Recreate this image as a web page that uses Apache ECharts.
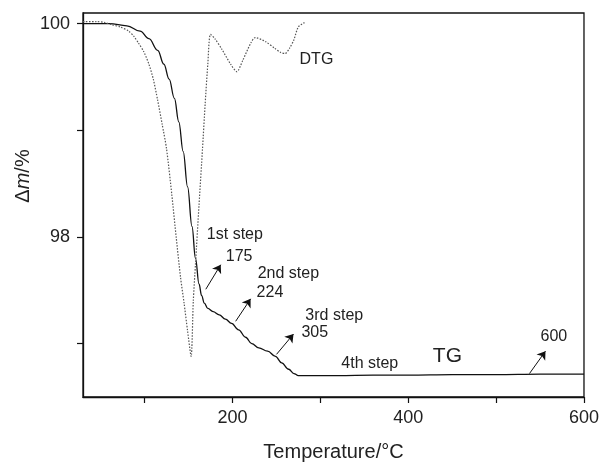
<!DOCTYPE html>
<html><head><meta charset="utf-8">
<script src="https://cdn.jsdelivr.net/npm/echarts@6/dist/echarts.min.js"></script>
<style>html,body{margin:0;padding:0;background:#fff}#c{width:602px;height:467px}</style>
</head><body><div id="c"></div>
<script>
// TG curve (temperature °C, mass %)
const tgX = [30, 60, 80, 95, 105, 115, 122, 128, 134, 139, 144, 149, 154, 158, 162, 165, 168, 172, 178, 185, 192, 199, 207, 215, 222, 230, 240, 249, 256, 264, 270, 275, 284, 320, 360, 400, 450, 500, 550, 600];
const tgY = [100.0, 100.0, 99.98, 99.93, 99.86, 99.75, 99.62, 99.48, 99.30, 99.08, 98.80, 98.47, 98.10, 97.80, 97.56, 97.45, 97.38, 97.33, 97.30, 97.27, 97.23, 97.19, 97.13, 97.06, 97.00, 96.96, 96.93, 96.88, 96.82, 96.76, 96.72, 96.70, 96.70, 96.70, 96.705, 96.705, 96.71, 96.71, 96.715, 96.715];
// DTG curve (scaled onto the same axis)
const dtgX = [30, 45, 55, 63, 72, 82, 88, 93, 99, 105, 110, 115, 120, 125, 131, 136, 141, 145, 149, 153, 155.5, 158, 162, 166, 169, 172, 175, 180, 188, 198, 205, 212, 221, 226, 238, 248, 255, 260, 265, 270, 275, 282];
const dtgY = [100.02, 100.02, 100.01, 99.99, 99.97, 99.93, 99.88, 99.82, 99.74, 99.62, 99.48, 99.28, 99.06, 98.83, 98.40, 98.00, 97.62, 97.38, 97.12, 96.88, 97.40, 97.75, 98.30, 98.83, 99.25, 99.62, 99.90, 99.86, 99.76, 99.62, 99.55, 99.66, 99.82, 99.87, 99.83, 99.77, 99.73, 99.72, 99.77, 99.85, 99.97, 100.01];
// axis ticks / labels
const xTicks = [100, 200, 300, 400, 500, 600];
const xLabels = [200, 400, 600];
const yTicks = [97, 98, 99, 100];
const yLabels = [98, 100];
// annotation texts
const notes = ['1st step', '175', '2nd step', '224', '3rd step', '305', '4th step', 'TG', '600', 'DTG'];
</script>
<script>
const noteAt = [[170.9, 98.02], [192.4, 97.82], [228.7, 97.66], [227.5, 97.48], [283, 97.26], [278.5, 97.10], [323.9, 96.81], [428, 96.88], [550.5, 97.07], [276.4, 99.66]];
const noteSize = [16, 16, 16, 16, 16, 16, 16, 21, 16, 16];
const arrows = [
  [[169.7, 97.51], [186.7, 97.74]],
  [[203.7, 97.21], [220.7, 97.42]],
  [[250.2, 96.90], [269.5, 97.09]],
  [[538, 96.72], [556.2, 96.93]]
];
const FONT = 'Liberation Sans, Arial, Helvetica, sans-serif';
const chart = echarts.init(document.getElementById('c'));
const axisCommon = {
  axisLine: { show: true, onZero: false, lineStyle: { color: '#111', width: 1.3 } },
  axisTick: { show: true, inside: false, length: 6, lineStyle: { color: '#111', width: 1.2 } },
  splitLine: { show: false },
};
chart.setOption({
  animation: false,
  backgroundColor: '#fff',
  grid: { left: 83, right: 15, top: 13, bottom: 65, show: true, borderColor: '#111', borderWidth: 1.3, backgroundColor: 'transparent' },
  xAxis: Object.assign({
    type: 'value', min: 30, max: 600,
    name: 'Temperature/°C', nameLocation: 'middle', nameGap: 45,
    nameTextStyle: { fontFamily: FONT, fontSize: 20, color: '#222' },
    axisLabel: { customValues: xLabels, fontFamily: FONT, fontSize: 18, color: '#222', margin: 12 }
  }, axisCommon, { axisTick: Object.assign({}, axisCommon.axisTick, { customValues: xTicks }) }),
  yAxis: Object.assign({
    type: 'value', min: 96.5, max: 100.1,
    axisLabel: { customValues: yLabels, fontFamily: FONT, fontSize: 18, color: '#222', margin: 13 }
  }, axisCommon, { axisTick: Object.assign({}, axisCommon.axisTick, { customValues: yTicks }) }),
  series: [
    { name: 'TG', type: 'line', data: tgX.map((x, i) => [x, tgY[i]]), showSymbol: false, smooth: 0.4, smoothMonotone: 'x',
      lineStyle: { color: '#111', width: 1.3 } },
    { name: 'DTG', type: 'line', data: dtgX.map((x, i) => [x, dtgY[i]]), showSymbol: false, smooth: 0.25,
      lineStyle: { color: '#555', width: 1.2, type: [1.5, 1.5] } },
    { name: 'arrows', type: 'lines', coordinateSystem: 'cartesian2d', data: arrows.map(c => ({ coords: c })),
      symbol: ['none', 'arrow'], symbolSize: [5, 8], lineStyle: { color: '#111', width: 1, opacity: 1 } }
  ]
});
const g = notes.map((t, i) => {
  const p = chart.convertToPixel({ gridIndex: 0 }, noteAt[i]);
  return { type: 'text', x: p[0], y: p[1], silent: true,
    style: { text: t, fontFamily: FONT, fontSize: noteSize[i], fill: '#222', align: 'left', verticalAlign: 'middle' } };
});
g.push({ type: 'text', x: 23, y: 176, rotation: Math.PI / 2, silent: true,
  style: { text: '{a|Δ}{b|m}{a|/%}', align: 'center', verticalAlign: 'middle',
    rich: { a: { fontFamily: FONT, fontSize: 20, fill: '#222' }, b: { fontFamily: FONT, fontSize: 20, fontStyle: 'italic', fill: '#222' } } } });
chart.setOption({ graphic: g });
</script>
</body></html>
